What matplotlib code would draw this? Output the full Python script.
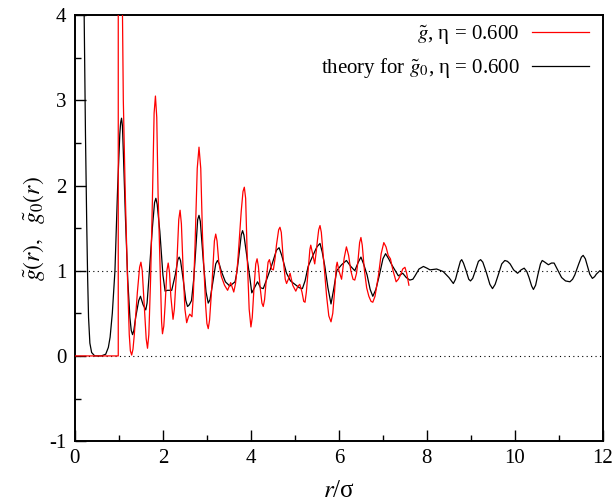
import matplotlib
matplotlib.use("Agg")
import matplotlib.pyplot as plt
from matplotlib.ticker import MultipleLocator

plt.rcParams['font.family'] = ['Liberation Serif', 'DejaVu Serif']
plt.rcParams['mathtext.fontset'] = 'stix'
plt.rcParams['axes.unicode_minus'] = False

# simulation g~(r), eta = 0.600
r_sim = [0.0, 0.985, 0.985, 1.07, 1.10, 1.14, 1.19, 1.235, 1.26, 1.29, 1.32, 1.35,
         1.42, 1.47, 1.50, 1.53, 1.57, 1.62, 1.65, 1.68, 1.72, 1.76, 1.80, 1.83,
         1.86, 1.89, 1.95, 1.97, 1.99, 2.02, 2.05, 2.09, 2.12, 2.15, 2.18, 2.23,
         2.26, 2.31, 2.36, 2.39, 2.42, 2.46, 2.50, 2.54, 2.58, 2.61, 2.66, 2.69,
         2.73, 2.78, 2.82, 2.86, 2.90, 2.97, 3.00, 3.03, 3.06, 3.11, 3.17, 3.20,
         3.23, 3.27, 3.33, 3.40, 3.47, 3.54, 3.61, 3.65, 3.70, 3.78, 3.82, 3.85,
         3.88, 3.92, 3.96, 4.00, 4.03, 4.07, 4.11, 4.14, 4.17, 4.21, 4.25, 4.28,
         4.31, 4.35, 4.39, 4.42, 4.47, 4.51, 4.55, 4.58, 4.63, 4.66, 4.69, 4.74,
         4.78, 4.81, 4.85, 4.89, 4.95, 5.02, 5.07, 5.11, 5.16, 5.20, 5.23, 5.26,
         5.30, 5.34, 5.36, 5.40, 5.45, 5.49, 5.51, 5.54, 5.57, 5.60, 5.64, 5.72,
         5.77, 5.82, 5.86, 5.90, 5.94, 5.96, 6.00, 6.06, 6.12, 6.17, 6.22, 6.27,
         6.32, 6.36, 6.40, 6.43, 6.47, 6.50, 6.53, 6.58, 6.63, 6.68, 6.73, 6.77,
         6.82, 6.90, 6.96, 7.02, 7.07, 7.12, 7.17, 7.23, 7.30, 7.35, 7.40, 7.45,
         7.50, 7.54, 7.59]
g_sim = [0.0, 0.0, 9.0, 4.6, 3.0, 2.0, 1.0, 0.25, 0.06, 0.01, 0.08, 0.25,
         0.75, 1.04, 1.10, 1.0, 0.65, 0.2, 0.09, 0.25, 0.9, 1.8, 2.85, 3.05,
         2.8, 1.9, 0.8, 0.4, 0.26, 0.35, 0.6, 1.0, 1.09, 0.98, 0.7, 0.43,
         0.55, 1.0, 1.6, 1.71, 1.55, 1.0, 0.55, 0.39, 0.46, 0.49, 0.46, 0.7,
         1.3, 2.2, 2.45, 2.2, 1.4, 0.6, 0.38, 0.32, 0.42, 0.8, 1.35, 1.43,
         1.35, 1.1, 0.93, 0.83, 0.77, 0.86, 0.75, 0.85, 1.1, 1.7, 1.93, 1.98,
         1.85, 1.1, 0.55, 0.34, 0.45, 0.8, 1.08, 1.14, 1.05, 0.8, 0.62, 0.58,
         0.66, 0.9, 1.1, 1.13, 1.02, 1.01, 1.15, 1.3, 1.48, 1.51, 1.45, 1.1,
         0.9, 0.85, 0.9, 0.97, 0.83, 0.76, 0.82, 0.84, 0.75, 0.64, 0.63, 0.75,
         1.0, 1.25, 1.30, 1.2, 1.08, 1.25, 1.35, 1.48, 1.53, 1.45, 1.2, 0.7,
         0.47, 0.40, 0.5, 0.75, 1.05, 1.10, 1.0, 0.90, 1.15, 1.28, 1.18, 1.0,
         0.9, 0.89, 0.97, 1.1, 1.33, 1.39, 1.3, 1.0, 0.8, 0.7, 0.64, 0.63,
         0.7, 0.95, 1.2, 1.33, 1.28, 1.18, 1.14, 1.0, 0.87, 0.9, 0.95, 1.02,
         1.04, 0.97, 0.83]

# theory g~0(r), eta = 0.600
r_th = [0.17, 0.21, 0.24, 0.27, 0.29, 0.31, 0.34, 0.38, 0.45, 0.60, 0.70, 0.76,
        0.80, 0.85, 0.91, 0.97, 1.02, 1.04, 1.06, 1.08, 1.10, 1.15, 1.20, 1.25,
        1.28, 1.31, 1.34, 1.38, 1.45, 1.49, 1.55, 1.61, 1.64, 1.68, 1.76, 1.81,
        1.84, 1.87, 1.93, 2.00, 2.05, 2.10, 2.20, 2.28, 2.34, 2.37, 2.40, 2.46,
        2.52, 2.56, 2.60, 2.65, 2.70, 2.74, 2.79, 2.82, 2.85, 2.92, 2.98, 3.03,
        3.07, 3.13, 3.20, 3.24, 3.28, 3.33, 3.42, 3.52, 3.64, 3.68, 3.72, 3.78,
        3.81, 3.84, 3.90, 3.98, 4.02, 4.08, 4.15, 4.22, 4.28, 4.36, 4.47, 4.58,
        4.64, 4.70, 4.81, 4.90, 5.00, 5.10, 5.17, 5.23, 5.30, 5.41, 5.50, 5.57,
        5.62, 5.68, 5.75, 5.82, 5.88, 5.95, 6.06, 6.17, 6.27, 6.36, 6.44, 6.50,
        6.56, 6.64, 6.71, 6.77, 6.84, 6.92, 7.00, 7.06, 7.13, 7.20, 7.35, 7.45,
        7.53, 7.61, 7.68, 7.73, 7.82, 7.92, 8.00, 8.07, 8.22, 8.37, 8.50, 8.60,
        8.65, 8.70, 8.76, 8.79, 8.83, 8.89, 8.95, 8.99, 9.04, 9.10, 9.17, 9.22,
        9.27, 9.35, 9.43, 9.49, 9.55, 9.62, 9.70, 9.77, 9.83, 9.89, 9.97, 10.06,
        10.14, 10.21, 10.27, 10.32, 10.38, 10.42, 10.47, 10.52, 10.58, 10.62, 10.68, 10.76,
        10.83, 10.89, 10.96, 11.06, 11.15, 11.25, 11.31, 11.36, 11.45, 11.51, 11.55, 11.60,
        11.65, 11.70, 11.76, 11.81, 11.85, 11.93, 12.0]
g_th = [6.0, 4.0, 2.6, 1.5, 0.9, 0.45, 0.15, 0.04, 0.0, 0.0, 0.02, 0.1,
        0.22, 0.5, 1.0, 1.96, 2.6, 2.74, 2.79, 2.7, 2.4, 1.6, 0.9, 0.45,
        0.3, 0.25, 0.3, 0.45, 0.65, 0.70, 0.6, 0.54, 0.62, 0.9, 1.5, 1.8,
        1.85, 1.78, 1.46, 0.95, 0.76, 0.77, 0.77, 0.95, 1.13, 1.16, 1.12, 0.9,
        0.65, 0.58, 0.6, 0.65, 0.9, 1.2, 1.6, 1.65, 1.58, 1.1, 0.75, 0.62,
        0.66, 0.85, 1.08, 1.12, 1.08, 0.99, 0.87, 0.82, 0.87, 0.98, 1.15, 1.42,
        1.47, 1.42, 1.2, 0.9, 0.74, 0.8, 0.87, 0.8, 0.79, 0.9, 1.06, 1.24,
        1.27, 1.18, 0.97, 0.88, 0.84, 0.8, 0.79, 0.88, 1.05, 1.18, 1.28, 1.32,
        1.22, 1.05, 0.8, 0.61, 0.78, 1.0, 1.07, 1.12, 1.05, 1.0, 1.1, 1.16,
        1.08, 0.95, 0.78, 0.70, 0.78, 0.95, 1.14, 1.20, 1.14, 1.07, 0.94, 0.97,
        0.92, 0.89, 0.9, 0.94, 1.02, 1.05, 1.03, 1.01, 1.02, 0.99, 0.92, 0.85,
        0.9, 1.0, 1.11, 1.13, 1.09, 1.0, 0.9, 0.88, 0.91, 1.0, 1.11, 1.13,
        1.1, 0.98, 0.84, 0.79, 0.84, 0.95, 1.08, 1.12, 1.11, 1.08, 1.01, 0.97,
        1.01, 1.03, 0.99, 0.92, 0.82, 0.78, 0.83, 0.95, 1.08, 1.12, 1.1, 1.07,
        1.09, 1.09, 1.02, 0.92, 0.88, 0.87, 0.9, 0.95, 1.08, 1.16, 1.18, 1.14,
        1.05, 0.96, 0.91, 0.93, 0.96, 1.0, 0.98]

fig = plt.figure(figsize=(6.14, 5.03), dpi=100)
ax = fig.add_axes([0.122, 0.123, 0.860, 0.847])

ax.axhline(0, color='k', lw=0.8, ls=(0, (1, 3)), zorder=1)
ax.axhline(1, color='k', lw=0.8, ls=(0, (1, 3)), zorder=1)

ax.plot(r_sim, g_sim, color='#ff0000', lw=0.9, solid_joinstyle='round',
        label=r'$\tilde{g}$, η = 0.600', zorder=3)
ax.plot(r_th, g_th, color='black', lw=0.9, solid_joinstyle='round',
        label=r'theory for $\tilde{g}_0$, η = 0.600', zorder=2)

ax.set_xlim(0, 12)
ax.set_ylim(-1, 4)
ax.xaxis.set_major_locator(MultipleLocator(2))
ax.xaxis.set_minor_locator(MultipleLocator(1))
ax.yaxis.set_major_locator(MultipleLocator(1))
ax.yaxis.set_minor_locator(MultipleLocator(0.5))
ax.tick_params(which='both', direction='in', labelsize=15, width=1.0)
ax.tick_params(which='major', length=8, pad=6)
ax.tick_params(which='minor', length=4.5)
for s in ax.spines.values():
    s.set_linewidth(1.4)

ax.set_xlabel(r'$r$/σ', fontsize=18, labelpad=8)
ax.set_ylabel(r'$\tilde{g}(r),\ \ \tilde{g}_0(r)$', fontsize=17, labelpad=2)

ax.legend(loc='upper right', frameon=False, markerfirst=False, fontsize=15,
          handlelength=2.75, handletextpad=0.6, labelspacing=0.45,
          borderaxespad=0.0, bbox_to_anchor=(0.99, 1.0))

fig.savefig('out.png', dpi=100)
